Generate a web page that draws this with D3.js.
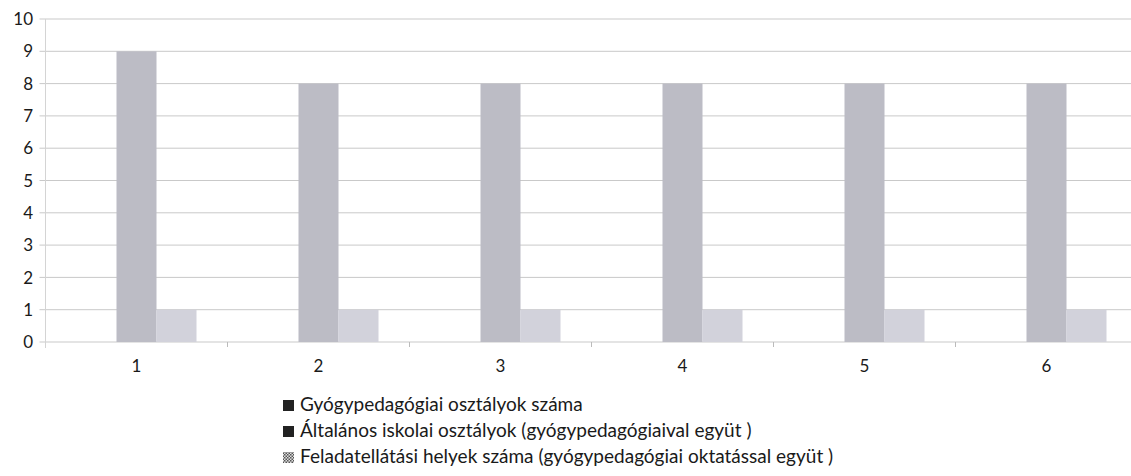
<!DOCTYPE html>
<html><head><meta charset="utf-8">
<script src="https://cdn.jsdelivr.net/npm/d3@7"></script>
<style>body{margin:0;background:#fff;} text{font-family:Lato,"Open Sans","Liberation Sans",sans-serif;}</style>
</head><body><svg id="c" width="1131" height="476"></svg>
<script>
const categories = ["1","2","3","4","5","6"];
const seriesNames = ["Gyógypedagógiai osztályok száma","Általános iskolai osztályok (gyógypedagógiaival együt )","Feladatellátási helyek száma (gyógypedagógiai oktatással együt )"];
const gyogyValues = [0,0,0,0,0,0];
const altalanosValues = [9,8,8,8,8,8];
const feladatValues = [1,1,1,1,1,1];
const yTicks = [0,1,2,3,4,5,6,7,8,9,10];

(function(){
const svg = d3.select("#c");
const mLeft = 45.5, mRight = 1137.5, mTop = 19, mBottom = 342;
const x = d3.scaleBand().domain(categories).range([mLeft,mRight]).paddingInner(0).paddingOuter(0);
const y = d3.scaleLinear().domain([0,10]).range([mBottom,mTop]);
const inner = d3.scaleBand().domain([0,1,2]).range([0,120]);
const barColors = ["#bcbcc5","#bcbcc5","#d2d2db"];
const seriesData = [gyogyValues, altalanosValues, feladatValues];

svg.append("g").selectAll("line").data(yTicks).join("line")
  .attr("x1",mLeft-6).attr("x2",1131).attr("y1",d=>y(d)).attr("y2",d=>y(d))
  .attr("stroke","#c9c9c9").attr("stroke-width",1);
svg.append("line").attr("x1",mLeft).attr("x2",mLeft).attr("y1",mTop).attr("y2",mBottom+6).attr("stroke","#d4d4d4");
svg.append("g").selectAll("text").data(yTicks).join("text")
  .attr("x",33).attr("y",d=>y(d)).attr("dy","0.36em").attr("text-anchor","end")
  .attr("font-size",17).attr("fill","#1a1a1a").text(d=>d);
svg.append("g").selectAll("line").data(categories.slice(1)).join("line")
  .attr("x1",d=>x(d)).attr("x2",d=>x(d)).attr("y1",mBottom).attr("y2",mBottom+5).attr("stroke","#bbb");
seriesData.forEach((vals,si)=>{
  svg.append("g").selectAll("rect").data(vals).join("rect")
    .attr("x",(d,i)=>x(categories[i]) + x.bandwidth()/2 - 60 + inner(si))
    .attr("width",inner.bandwidth())
    .attr("y",d=>y(d)).attr("height",d=>mBottom-y(d))
    .attr("fill",barColors[si]);
});
svg.append("g").selectAll("text").data(categories).join("text")
  .attr("x",d=>x(d)+x.bandwidth()/2).attr("y",372).attr("text-anchor","middle")
  .attr("font-size",17).attr("fill","#1a1a1a").text(d=>d);
const defs = svg.append("defs");
const pat = defs.append("pattern").attr("id","hatch").attr("width",3).attr("height",3).attr("patternUnits","userSpaceOnUse");
pat.append("rect").attr("width",3).attr("height",3).attr("fill","#ddd");
pat.append("rect").attr("width",1.5).attr("height",1.5).attr("fill","#555");
pat.append("rect").attr("x",1.5).attr("y",1.5).attr("width",1.5).attr("height",1.5).attr("fill","#555");
const legendFills = ["#222","#222","url(#hatch)"];
const lg = svg.append("g").selectAll("g").data(seriesNames).join("g")
  .attr("transform",(d,i)=>`translate(287,${411+i*26})`);
lg.append("rect").attr("x",-4).attr("y",-11).attr("width",11).attr("height",11).attr("fill",(d,i)=>legendFills[i]);
const lt = lg.append("text").attr("x",13).attr("y",0).attr("font-size",18.5).attr("fill","#1a1a1a").text(d=>d);
// fit legend font so the second entry spans the reference width (~452px)
const n2 = lt.nodes()[1];
const w = n2.getComputedTextLength();
if (w > 0) lt.attr("font-size", 18.5 * 452 / w);
})();
</script></body></html>
